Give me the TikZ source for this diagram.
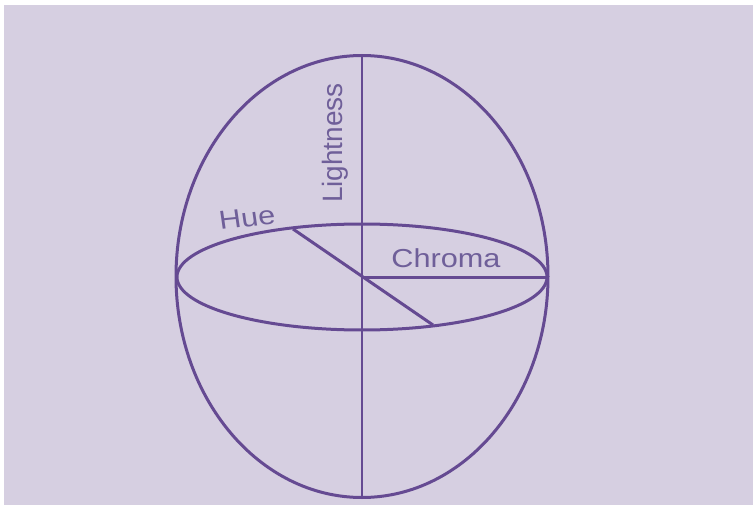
\documentclass[tikz,border=0pt]{standalone}
\usepackage{fontspec}
\setmainfont{Liberation Sans}
\definecolor{bglav}{HTML}{D6CFE1}
\definecolor{lineP}{HTML}{654A92}
\definecolor{textP}{HTML}{6F5F99}
\begin{document}
\begin{tikzpicture}[x=1pt,y=-1pt,
  pline/.style={draw=lineP,line width=3pt},
  lbltext/.style={text=textP,inner sep=0pt},
  lbl/.style={lbltext,font=\fontsize{26}{30}\selectfont,xscale=1.18},
  lblv/.style={lbltext,font=\fontsize{28}{32}\selectfont}]
\useasboundingbox (0,0) rectangle (753,508);
\fill[white] (0,0) rectangle (753,508);
\fill[bglav] (4,5) rectangle (753,505);
\coordinate (c) at (362,277);
\coordinate (top) at (362,55.5);
\coordinate (bot) at (362,497.5);
\coordinate (right) at (547,277);
\coordinate (hueA) at (293,229);
\coordinate (hueB) at (433,325);
\draw[pline] (362,276.5) ellipse [x radius=186, y radius=221];
\draw[pline] (c) ellipse [x radius=185, y radius=53];
\draw[pline,line width=2.6pt] (top) -- (bot);
\draw[pline] (c) -- (right);
\draw[pline] (hueA) -- (hueB);
\node[lbl,rotate=7] (hue) at (247,218) {Hue};
\node[lblv,rotate=90] (light) at (335,143) {Lightness};
\node[lbl] (chroma) at (446,258) {Chroma};
\end{tikzpicture}
\end{document}
